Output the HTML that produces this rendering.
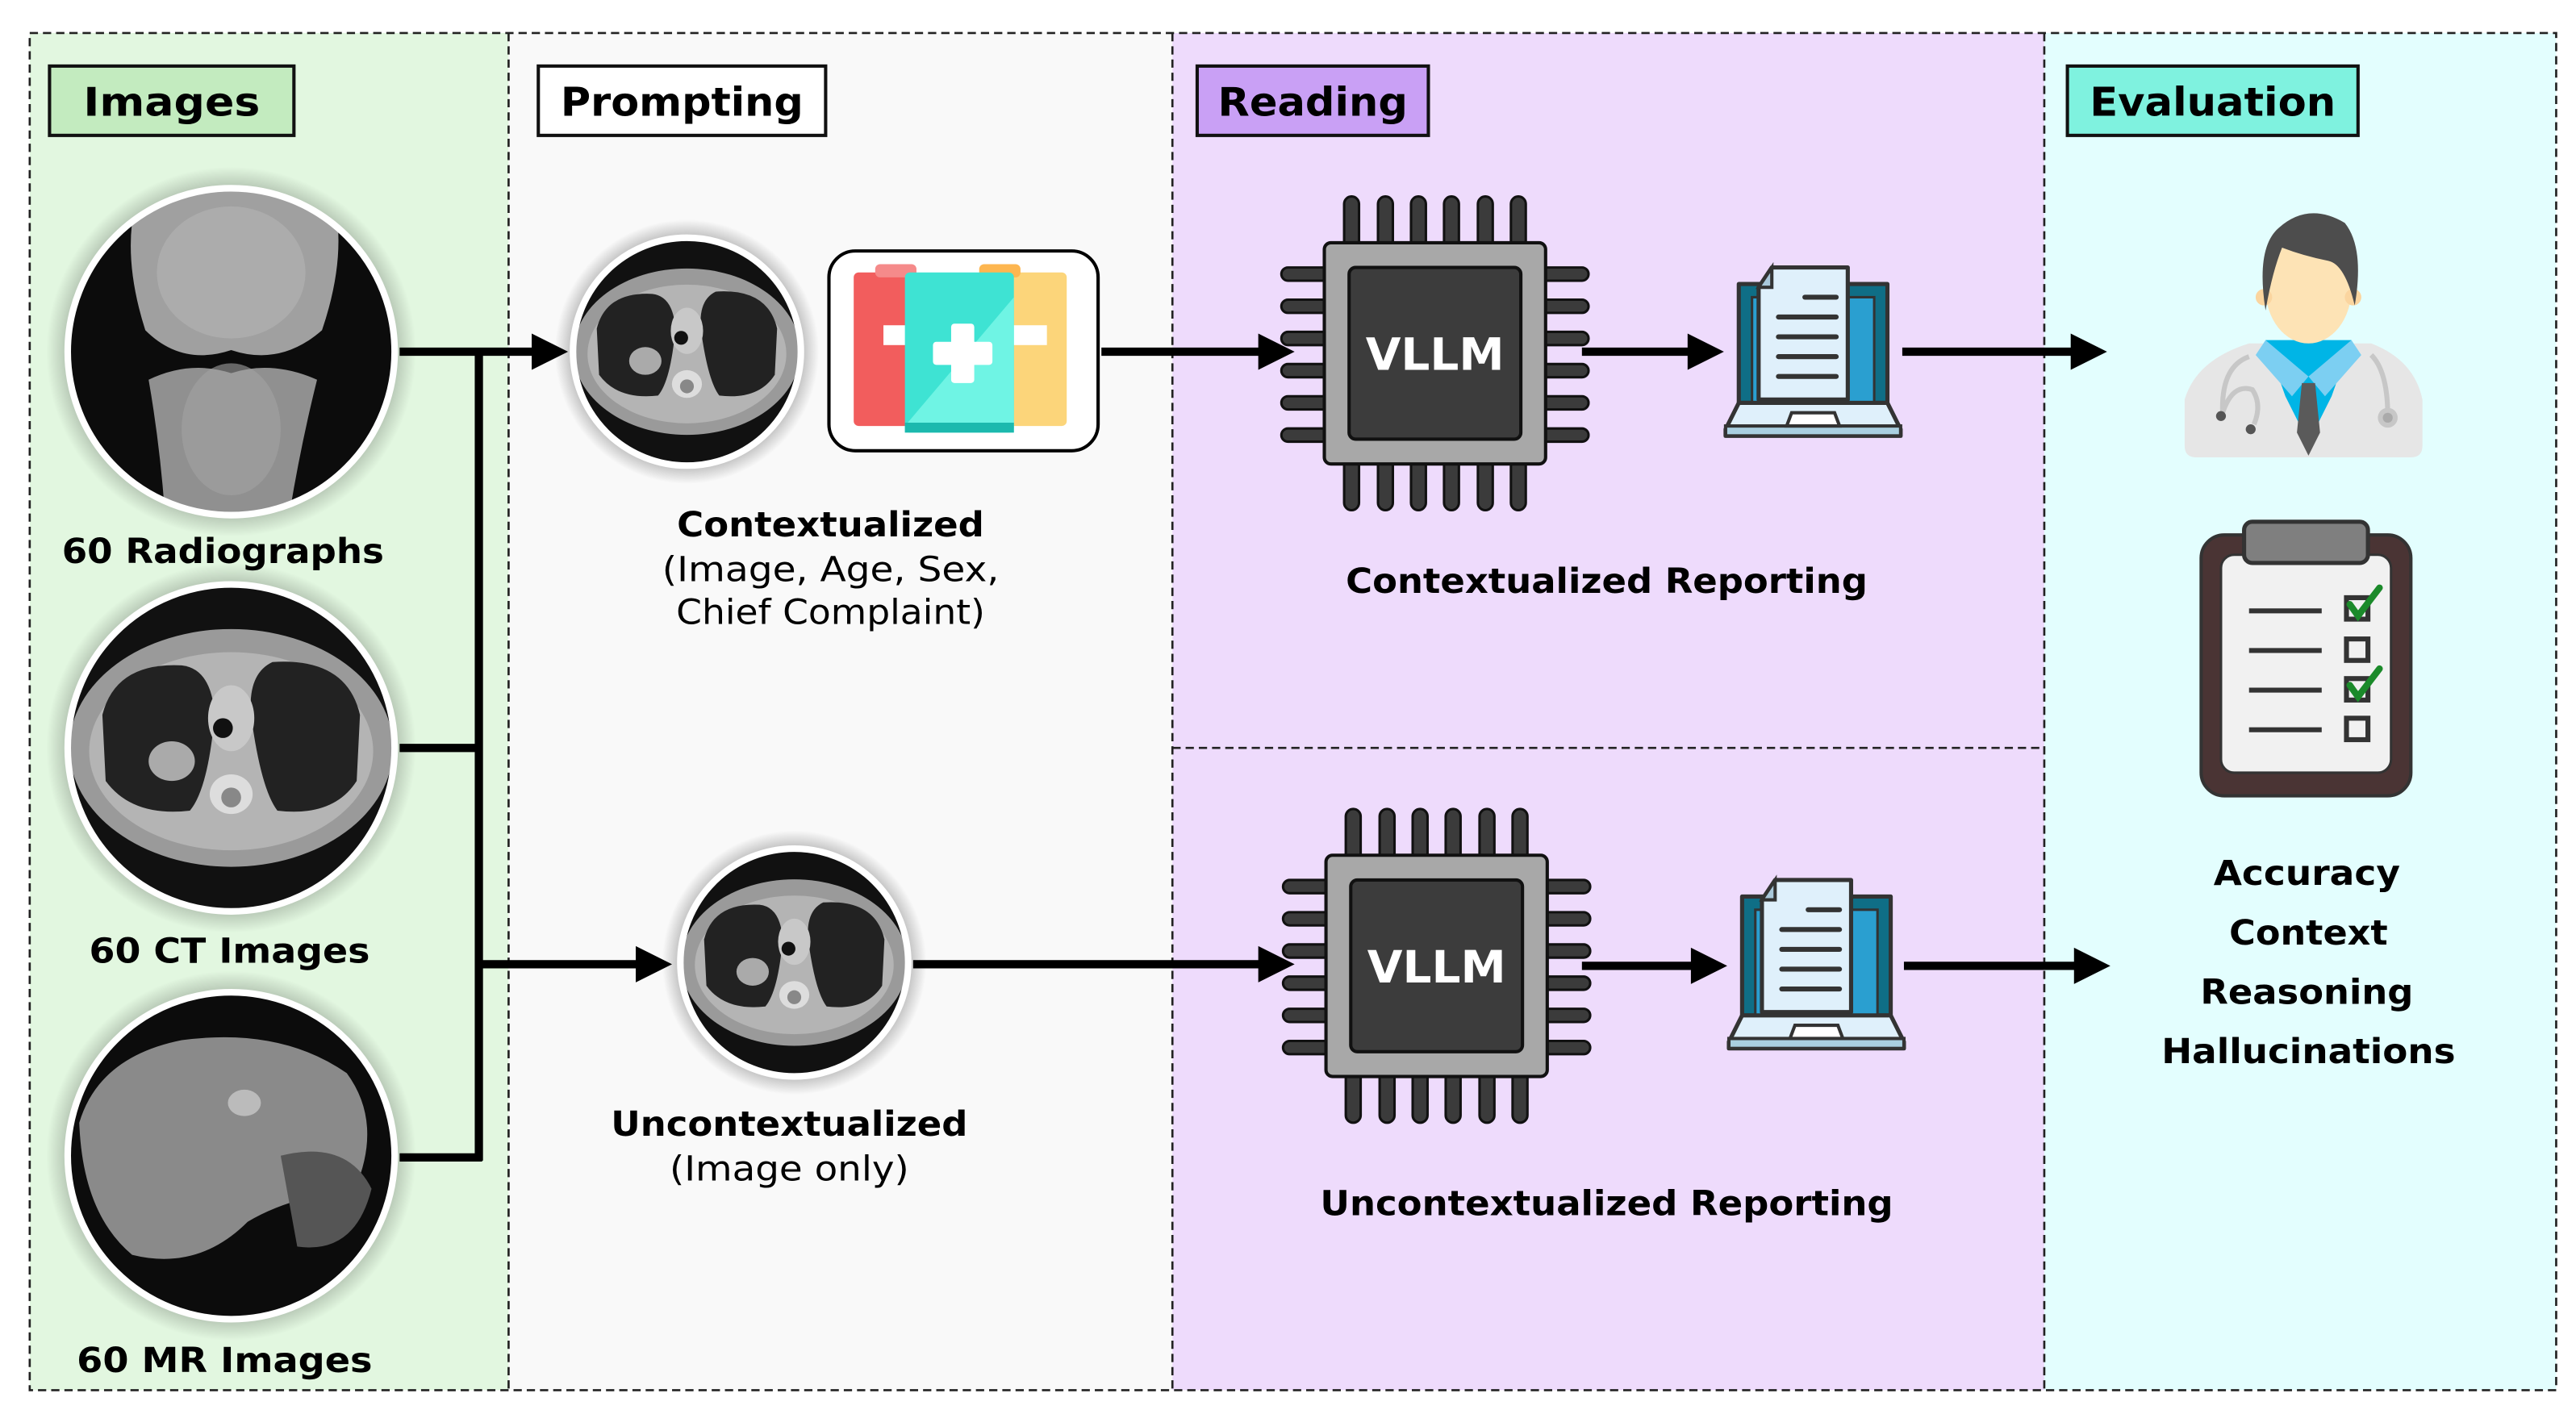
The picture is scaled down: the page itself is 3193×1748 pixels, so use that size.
<!DOCTYPE html>
<html><head><meta charset="utf-8"><style>
html,body{margin:0;padding:0;background:#fff;}
svg{display:block;}
text{font-family:"DejaVu Sans","Liberation Sans",sans-serif;font-weight:bold;fill:#000;}
.n{font-weight:normal;}
</style></head><body>
<svg width="3193" height="1748" viewBox="0 0 1560 854" xmlns="http://www.w3.org/2000/svg">
<defs>
<clipPath id="c1"><circle cx="140" cy="213" r="98"/></clipPath>
<clipPath id="c2"><circle cx="140" cy="453" r="98"/></clipPath>
<clipPath id="c3"><circle cx="140" cy="700" r="98"/></clipPath>
<clipPath id="c4"><circle cx="416" cy="213" r="68"/></clipPath>
<clipPath id="c5"><circle cx="481" cy="583" r="68"/></clipPath>
<radialGradient id="sh" cx="0.5" cy="0.5" r="0.5"><stop offset="0.8" stop-color="#000" stop-opacity="0.35"/><stop offset="1" stop-color="#000" stop-opacity="0"/></radialGradient>
<g id="ct">
<rect x="-100" y="-100" width="200" height="200" fill="#111"/>
<ellipse cx="0" cy="0" rx="98" ry="72" fill="#9a9a9a"/>
<ellipse cx="0" cy="2" rx="86" ry="60" fill="#b4b4b4"/>
<path d="M-78,-20 Q-70,-52 -30,-50 Q-12,-48 -10,-20 Q-14,25 -25,38 Q-60,42 -76,20 Z" fill="#222"/>
<path d="M78,-20 Q70,-55 25,-52 Q10,-45 12,-20 Q18,25 28,38 Q62,42 76,20 Z" fill="#222"/>
<ellipse cx="-36" cy="8" rx="14" ry="12" fill="#aaa"/>
<ellipse cx="0" cy="-18" rx="14" ry="20" fill="#c8c8c8"/>
<circle cx="-5" cy="-12" r="6" fill="#111"/>
<ellipse cx="0" cy="28" rx="13" ry="12" fill="#ddd"/>
<circle cx="0" cy="30" r="6" fill="#888"/>
</g>
<g id="chip">
<g fill="#3b3b3b" stroke="#111" stroke-width="1.5">
<rect x="-55" y="-95" width="9" height="40" rx="4.5"/><rect x="-34.5" y="-95" width="9" height="40" rx="4.5"/><rect x="-14.5" y="-95" width="9" height="40" rx="4.5"/><rect x="5.5" y="-95" width="9" height="40" rx="4.5"/><rect x="26" y="-95" width="9" height="40" rx="4.5"/><rect x="46" y="-95" width="9" height="40" rx="4.5"/>
<rect x="-55" y="55" width="9" height="40" rx="4.5"/><rect x="-34.5" y="55" width="9" height="40" rx="4.5"/><rect x="-14.5" y="55" width="9" height="40" rx="4.5"/><rect x="5.5" y="55" width="9" height="40" rx="4.5"/><rect x="26" y="55" width="9" height="40" rx="4.5"/><rect x="46" y="55" width="9" height="40" rx="4.5"/>
<rect x="-93" y="-52" width="40" height="8" rx="4"/><rect x="-93" y="-32.5" width="40" height="8" rx="4"/><rect x="-93" y="-13" width="40" height="8" rx="4"/><rect x="-93" y="6.5" width="40" height="8" rx="4"/><rect x="-93" y="26" width="40" height="8" rx="4"/><rect x="-93" y="45.5" width="40" height="8" rx="4"/>
<rect x="53" y="-52" width="40" height="8" rx="4"/><rect x="53" y="-32.5" width="40" height="8" rx="4"/><rect x="53" y="-13" width="40" height="8" rx="4"/><rect x="53" y="6.5" width="40" height="8" rx="4"/><rect x="53" y="26" width="40" height="8" rx="4"/><rect x="53" y="45.5" width="40" height="8" rx="4"/>
</g>
<rect x="-67" y="-67" width="134" height="134" rx="4" fill="#a8a8a8" stroke="#111" stroke-width="2"/>
<rect x="-52" y="-52" width="104" height="104" rx="4" fill="#3c3c3c" stroke="#111" stroke-width="2"/>
<text x="0" y="10" text-anchor="middle" font-size="27" textLength="84" lengthAdjust="spacingAndGlyphs" style="fill:#fff">VLLM</text>
</g>
<g id="lap">
<path d="M8,12 h90 v72 h-90 z" fill="#0f6e86" stroke="#333" stroke-width="2.5" stroke-linejoin="round"/>
<rect x="16" y="20" width="74" height="64" fill="#2a9fd0" stroke="#333" stroke-width="1.5"/>
<path d="M28,2 h46 v80 h-54 v-68 z" fill="#dff0fb" stroke="#333" stroke-width="2.5" stroke-linejoin="round"/>
<path d="M20,14 L28,2 v12 z" fill="#a9c8da" stroke="#333" stroke-width="2"/>
<g stroke="#333" stroke-width="3" stroke-linecap="round"><line x1="48" y1="20" x2="67" y2="20"/><line x1="32" y1="32" x2="67" y2="32"/><line x1="32" y1="44" x2="67" y2="44"/><line x1="32" y1="56" x2="67" y2="56"/><line x1="32" y1="68" x2="67" y2="68"/></g>
<path d="M8,84 h90 l8,16 v4 h-106 v-4 z" fill="#dff0fb" stroke="#333" stroke-width="2.5" stroke-linejoin="round"/>
<rect x="0" y="98" width="106" height="6" fill="#a9cfe0" stroke="#333" stroke-width="2"/>
<path d="M40,90 h26 l3,8 h-32 z" fill="#fff" stroke="#333" stroke-width="2"/>
</g>
</defs>

<rect x="18" y="20" width="290" height="822" fill="#e2f7e0"/>
<rect x="308" y="20" width="402" height="822" fill="#f9f9f9"/>
<rect x="710" y="20" width="528" height="822" fill="#eedbfc"/>
<rect x="1238" y="20" width="310" height="822" fill="#e3fefe"/>
<g stroke="#222" stroke-width="1.3" stroke-dasharray="5,3" fill="none">
<rect x="18" y="20" width="1530" height="822"/>
<line x1="308" y1="20" x2="308" y2="842"/>
<line x1="710" y1="20" x2="710" y2="842"/>
<line x1="1238" y1="20" x2="1238" y2="842"/>
<line x1="710" y1="453" x2="1238" y2="453"/>
</g>

<rect x="30" y="40" width="148" height="42" fill="#c3ebbf" stroke="#111" stroke-width="2"/>
<text x="104" y="70" text-anchor="middle" font-size="24" textLength="107" lengthAdjust="spacingAndGlyphs">Images</text>
<rect x="326" y="40" width="174" height="42" fill="#fff" stroke="#111" stroke-width="2"/>
<text x="413" y="70" text-anchor="middle" font-size="24" textLength="147" lengthAdjust="spacingAndGlyphs">Prompting</text>
<rect x="725" y="40" width="140" height="42" fill="#c9a0f5" stroke="#111" stroke-width="2"/>
<text x="795" y="70" text-anchor="middle" font-size="24" textLength="115" lengthAdjust="spacingAndGlyphs">Reading</text>
<rect x="1252" y="40" width="176" height="42" fill="#7ff2df" stroke="#111" stroke-width="2"/>
<text x="1340" y="70" text-anchor="middle" font-size="24" textLength="149" lengthAdjust="spacingAndGlyphs">Evaluation</text>

<circle cx="140" cy="213" r="112" fill="url(#sh)"/>
<circle cx="140" cy="453" r="112" fill="url(#sh)"/>
<circle cx="140" cy="700" r="112" fill="url(#sh)"/>
<g clip-path="url(#c1)">
<rect x="40" y="113" width="200" height="200" fill="#0c0c0c"/>
<path d="M85,113 L200,113 Q212,150 195,200 Q170,222 140,212 Q110,222 88,200 Q72,150 85,113Z" fill="#a0a0a0"/>
<path d="M90,230 Q115,218 140,226 Q165,218 192,230 Q182,270 175,313 L100,313 Q97,270 90,230Z" fill="#909090"/>
<ellipse cx="140" cy="165" rx="45" ry="40" fill="#b4b4b4" opacity="0.6"/>
<ellipse cx="140" cy="260" rx="30" ry="40" fill="#a4a4a4" opacity="0.6"/>
</g>
<circle cx="140" cy="213" r="99" fill="none" stroke="#fff" stroke-width="4"/>
<g clip-path="url(#c2)"><use href="#ct" transform="translate(140,453)"/></g>
<circle cx="140" cy="453" r="99" fill="none" stroke="#fff" stroke-width="4"/>
<g clip-path="url(#c3)">
<rect x="40" y="600" width="200" height="200" fill="#0c0c0c"/>
<path d="M48,680 Q60,640 110,630 Q170,622 210,650 Q232,680 215,720 Q175,725 150,740 Q120,770 80,760 Q50,735 48,680Z" fill="#8a8a8a"/>
<path d="M170,700 Q210,690 225,720 Q215,760 180,755 Z" fill="#555"/>
<ellipse cx="148" cy="668" rx="10" ry="8" fill="#bbb"/>
</g>
<circle cx="140" cy="700" r="99" fill="none" stroke="#fff" stroke-width="4"/>
<text x="135" y="341" text-anchor="middle" font-size="21" textLength="195" lengthAdjust="spacingAndGlyphs">60 Radiographs</text>
<text x="139" y="583" text-anchor="middle" font-size="21" textLength="170" lengthAdjust="spacingAndGlyphs">60 CT Images</text>
<text x="136" y="831" text-anchor="middle" font-size="21" textLength="179" lengthAdjust="spacingAndGlyphs">60 MR Images</text>

<g stroke="#000" stroke-width="5" fill="none">
<line x1="242" y1="213" x2="325" y2="213"/>
<line x1="290" y1="211" x2="290" y2="703"/>
<line x1="242" y1="453" x2="292" y2="453"/>
<line x1="242" y1="701" x2="292" y2="701"/>
<line x1="290" y1="584" x2="388" y2="584"/>
<line x1="553" y1="584" x2="765" y2="584"/>
<line x1="667" y1="213" x2="765" y2="213"/>
<line x1="958" y1="213" x2="1025" y2="213"/>
<line x1="958" y1="585" x2="1027" y2="585"/>
<line x1="1152" y1="213" x2="1257" y2="213"/>
<line x1="1153" y1="585" x2="1259" y2="585"/>
</g>
<g fill="#000">
<path d="M322,202 L344,213 L322,224Z"/>
<path d="M385,573 L407,584 L385,595Z"/>
<path d="M762,202 L784,213 L762,224Z"/>
<path d="M762,573 L784,584 L762,595Z"/>
<path d="M1022,202 L1044,213 L1022,224Z"/>
<path d="M1024,574 L1046,585 L1024,596Z"/>
<path d="M1254,202 L1276,213 L1254,224Z"/>
<path d="M1256,574 L1278,585 L1256,596Z"/>
</g>

<circle cx="416" cy="213" r="80" fill="url(#sh)"/>
<g clip-path="url(#c4)"><use href="#ct" transform="translate(416,213) scale(0.7)"/></g>
<circle cx="416" cy="213" r="69" fill="none" stroke="#fff" stroke-width="4"/>
<rect x="502" y="152" width="163" height="121" rx="16" fill="#fff" stroke="#000" stroke-width="2"/>
<rect x="517" y="165" width="34" height="93" rx="3" fill="#f25d5d"/>
<rect x="610" y="165" width="36" height="93" rx="3" fill="#fcd57a"/>
<rect x="530" y="160" width="25" height="8" rx="3" fill="#f58a8a"/>
<rect x="593" y="160" width="25" height="8" rx="3" fill="#fdb650"/>
<rect x="610" y="197" width="24" height="12" fill="#fff"/>
<rect x="535" y="197" width="15" height="12" fill="#fff"/>
<rect x="548" y="165" width="66" height="97" rx="3" fill="#3ee3d3"/>
<path d="M548,258 L614,180 V262 H548Z" fill="#6ff4e4"/>
<rect x="548" y="256" width="66" height="6" fill="#1cb9ae"/>
<rect x="576" y="196" width="14" height="36" rx="2" fill="#fff"/>
<rect x="565" y="207" width="36" height="14" rx="2" fill="#fff"/>
<text x="503" y="325" text-anchor="middle" font-size="21" textLength="186" lengthAdjust="spacingAndGlyphs">Contextualized</text>
<text x="503" y="352" text-anchor="middle" font-size="21" class="n" textLength="204" lengthAdjust="spacingAndGlyphs">(Image, Age, Sex,</text>
<text x="503" y="378" text-anchor="middle" font-size="21" class="n" textLength="187" lengthAdjust="spacingAndGlyphs">Chief Complaint)</text>

<circle cx="481" cy="583" r="80" fill="url(#sh)"/>
<g clip-path="url(#c5)"><use href="#ct" transform="translate(481,583) scale(0.7)"/></g>
<circle cx="481" cy="583" r="69" fill="none" stroke="#fff" stroke-width="4"/>
<text x="478" y="688" text-anchor="middle" font-size="21" textLength="216" lengthAdjust="spacingAndGlyphs">Uncontextualized</text>
<text x="478" y="715" text-anchor="middle" font-size="21" class="n" textLength="145" lengthAdjust="spacingAndGlyphs">(Image only)</text>

<use href="#chip" transform="translate(869,214)"/>
<use href="#chip" transform="translate(870,585)"/>
<use href="#lap" transform="translate(1045,160)"/>
<use href="#lap" transform="translate(1047,531)"/>
<text x="973" y="359" text-anchor="middle" font-size="21" textLength="316" lengthAdjust="spacingAndGlyphs">Contextualized Reporting</text>
<text x="973" y="736" text-anchor="middle" font-size="21" textLength="347" lengthAdjust="spacingAndGlyphs">Uncontextualized Reporting</text>

<path d="M1323,242 Q1330,218 1362,208 L1436,208 Q1462,218 1467,242 V270 Q1467,277 1460,277 H1330 Q1323,277 1323,270Z" fill="#e6e6e6"/>
<path d="M1372,206 L1424,206 L1412,240 L1398,268 L1384,240Z" fill="#00b5e6"/>
<path d="M1372,206 L1398,228 L1424,206 L1430,215 L1408,240 L1398,228 L1388,240 L1366,215Z" fill="#7ccff2"/>
<path d="M1394,232 h8 l3,30 l-7,14 l-7,-14z" fill="#5a5a5a"/>
<ellipse cx="1398" cy="175" rx="26" ry="33" fill="#fde3b5"/>
<circle cx="1371" cy="180" r="5" fill="#fbd59f"/><circle cx="1425" cy="180" r="5" fill="#fbd59f"/>
<path d="M1372,188 Q1366,150 1380,138 Q1398,122 1420,135 Q1432,150 1426,185 Q1420,160 1410,158 Q1395,155 1382,150 Q1376,165 1372,188Z" fill="#4d4d4d"/>
<path d="M1362,216 Q1345,222 1346,250" stroke="#c7c7c7" stroke-width="3" fill="none"/>
<path d="M1346,250 Q1352,232 1364,236 Q1370,245 1365,257" stroke="#c7c7c7" stroke-width="3" fill="none"/>
<circle cx="1345" cy="252" r="3" fill="#555"/><circle cx="1363" cy="260" r="3" fill="#555"/>
<path d="M1436,215 Q1446,225 1446,252" stroke="#c7c7c7" stroke-width="3" fill="none"/>
<circle cx="1446" cy="253" r="6" fill="#c7c7c7"/><circle cx="1446" cy="253" r="3" fill="#aaa"/>

<rect x="1333" y="324" width="127" height="158" rx="14" fill="#4a3434" stroke="#333" stroke-width="2"/>
<rect x="1345" y="336" width="103" height="132" rx="8" fill="#f1f1f1" stroke="#333" stroke-width="1.5"/>
<rect x="1359" y="316" width="75" height="25" rx="5" fill="#7f7f7f" stroke="#333" stroke-width="2.5"/>
<g stroke="#333" stroke-width="3"><line x1="1362" y1="370" x2="1406" y2="370"/><line x1="1362" y1="394" x2="1406" y2="394"/><line x1="1362" y1="418" x2="1406" y2="418"/><line x1="1362" y1="442" x2="1406" y2="442"/></g>
<g fill="#f1f1f1" stroke="#333" stroke-width="3"><rect x="1421" y="362" width="13" height="13"/><rect x="1421" y="387" width="13" height="13"/><rect x="1421" y="411" width="13" height="13"/><rect x="1421" y="435" width="13" height="13"/></g>
<g stroke="#1b8a2a" stroke-width="4" fill="none" stroke-linecap="round"><path d="M1423,366 L1428,373 L1441,356"/><path d="M1423,415 L1428,422 L1441,405"/></g>

<text x="1397" y="536" text-anchor="middle" font-size="21" textLength="113" lengthAdjust="spacingAndGlyphs">Accuracy</text>
<text x="1398" y="572" text-anchor="middle" font-size="21" textLength="96" lengthAdjust="spacingAndGlyphs">Context</text>
<text x="1397" y="608" text-anchor="middle" font-size="21" textLength="129" lengthAdjust="spacingAndGlyphs">Reasoning</text>
<text x="1398" y="644" text-anchor="middle" font-size="21" textLength="178" lengthAdjust="spacingAndGlyphs">Hallucinations</text>
</svg>
</body></html>
